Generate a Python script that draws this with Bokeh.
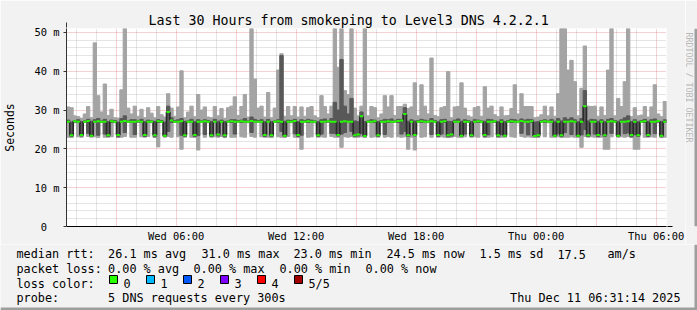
import numpy as np
from bokeh.plotting import figure
from bokeh.models import FixedTicker, Arrow, NormalHead, Range1d, Title
from bokeh.layouts import column, row
from bokeh.core.properties import value
from bokeh.embed import file_html
from bokeh.resources import INLINE

# ---------------- data ----------------
# time in hours since Wed Dec 10 00:00, 10-minute steps over the last 30 hours
t_start = 31 / 60 + 14 / 3600
t_step = 1 / 6
n_steps = 180

median = [
    27.0, 23.5, 27.1, 27.0, 23.6, 27.0, 27.2, 23.4, 27.0, 27.1,
    27.0, 27.0, 23.5, 27.1, 27.0, 23.6, 27.0, 27.2, 27.0, 27.0,
    27.0, 27.1, 27.0, 23.6, 27.0, 27.0, 23.5, 27.1, 27.0, 23.4,
    29.5, 27.3, 27.0, 27.0, 27.1, 23.5, 27.0, 27.0, 23.6, 27.0,
    27.0, 27.1, 27.0, 23.5, 27.0, 23.7, 27.0, 23.5, 27.0, 27.1,
    27.0, 27.0, 27.1, 27.0, 27.0, 27.2, 27.0, 27.0, 27.0, 23.6,
    27.0, 23.5, 27.0, 27.1, 27.0, 23.4, 27.0, 27.0, 27.2, 23.6,
    27.0, 27.0, 27.1, 27.0, 27.0, 23.5, 27.0, 27.0, 27.1, 27.0,
    27.0, 23.6, 27.0, 27.1, 27.0, 27.0, 23.5, 23.7, 28.4, 23.3,
    27.0, 27.0, 27.1, 23.5, 27.0, 27.0, 27.1, 27.0, 27.0, 27.2,
    27.3, 29.0, 23.5, 27.0, 23.6, 27.0, 27.1, 27.0, 27.0, 27.1,
    27.0, 23.6, 27.0, 27.1, 23.5, 23.7, 27.0, 27.0, 23.4, 27.0,
    27.0, 23.5, 27.0, 27.1, 27.0, 23.6, 27.0, 27.0, 27.1, 23.5,
    27.0, 23.4, 27.0, 27.1, 27.0, 27.0, 27.2, 27.0, 27.0, 27.1,
    23.3, 23.5, 27.0, 27.1, 27.0, 27.0, 23.4, 27.0, 23.5, 27.0,
    27.0, 27.1, 27.0, 23.4, 27.0, 31.0, 23.5, 27.0, 27.0, 23.6,
    27.0, 23.5, 27.0, 27.1, 27.0, 23.4, 27.0, 27.0, 27.1, 23.6,
    27.0, 23.5, 27.0, 27.1, 23.6, 27.0, 27.0, 27.2, 23.4, 27.0,
]

ping_min = [
    23.0, 22.9, 26.7, 23.1, 23.0, 26.8, 23.2, 23.0, 23.1, 22.9,
    26.8, 23.0, 23.0, 23.1, 26.7, 22.9, 23.0, 23.2, 26.8, 23.0,
    23.0, 26.8, 23.1, 23.0, 23.2, 26.7, 22.9, 20.5, 26.8, 23.0,
    23.2, 23.0, 26.8, 23.1, 19.9, 23.0, 26.7, 23.0, 22.9, 19.7,
    26.8, 23.0, 26.7, 23.0, 23.1, 23.0, 23.2, 22.9, 26.8, 23.0,
    23.0, 26.8, 23.1, 23.0, 26.7, 23.2, 23.0, 26.8, 23.1, 23.0,
    23.0, 22.9, 26.8, 23.1, 23.0, 23.0, 23.2, 26.7, 23.0, 22.9,
    19.9, 26.8, 23.0, 23.1, 26.7, 23.0, 23.1, 23.0, 26.8, 23.2,
    23.0, 23.0, 20.4, 23.1, 23.0, 23.2, 22.9, 23.0, 23.1, 23.0,
    26.8, 23.0, 23.1, 23.0, 26.7, 23.0, 23.2, 23.0, 26.8, 23.1,
    23.0, 23.1, 19.9, 23.0, 19.7, 26.8, 23.0, 23.1, 26.7, 23.0,
    26.8, 23.0, 23.1, 23.0, 22.9, 23.0, 23.2, 23.0, 22.9, 23.1,
    26.8, 23.0, 23.1, 23.0, 26.7, 22.9, 23.0, 23.1, 26.8, 23.0,
    23.0, 23.0, 26.8, 23.1, 23.0, 26.7, 23.2, 23.0, 23.1, 23.0,
    23.0, 22.9, 26.8, 23.1, 26.7, 23.0, 23.0, 23.1, 22.9, 23.0,
    23.0, 23.1, 23.0, 22.9, 20.4, 23.2, 23.0, 23.1, 23.0, 22.9,
    23.0, 19.9, 19.9, 23.1, 26.8, 23.0, 23.1, 23.0, 23.2, 22.9,
    19.9, 19.9, 26.8, 23.0, 23.0, 23.1, 23.0, 26.7, 22.9, 23.0,
]

ping_lo = [
    26.8, 23.2, 26.9, 26.8, 23.3, 26.9, 24.0, 23.2, 26.8, 23.5,
    26.9, 23.8, 23.2, 26.8, 26.9, 23.1, 26.8, 24.2, 26.9, 26.8,
    23.7, 26.9, 26.8, 23.2, 26.8, 26.9, 23.1, 26.8, 26.9, 23.2,
    24.5, 26.8, 26.9, 26.8, 23.5, 23.2, 26.9, 26.8, 23.2, 23.4,
    26.9, 23.7, 26.9, 23.2, 26.8, 23.3, 26.8, 23.1, 26.9, 26.8,
    23.8, 26.9, 26.8, 26.8, 26.9, 24.2, 26.8, 26.9, 26.8, 23.2,
    26.8, 23.2, 26.9, 26.8, 24.5, 23.1, 26.8, 26.9, 23.9, 23.2,
    23.5, 26.9, 26.8, 26.8, 26.9, 23.2, 23.8, 26.8, 26.9, 24.0,
    24.0, 23.3, 23.8, 24.2, 26.8, 24.5, 23.2, 23.3, 24.0, 23.1,
    26.9, 26.8, 26.8, 23.2, 26.9, 23.7, 26.8, 26.8, 26.9, 26.8,
    23.8, 24.5, 23.2, 26.8, 23.3, 26.9, 26.8, 26.8, 26.9, 23.7,
    26.9, 23.2, 23.8, 26.8, 23.1, 23.3, 26.8, 26.8, 23.2, 23.8,
    26.9, 23.2, 26.8, 26.8, 26.9, 23.2, 23.6, 26.8, 26.9, 23.1,
    23.7, 23.2, 26.9, 26.8, 26.8, 26.9, 24.0, 26.8, 23.6, 26.8,
    23.1, 23.2, 26.9, 26.8, 26.9, 26.8, 23.2, 23.9, 23.2, 24.2,
    26.8, 23.7, 26.8, 23.2, 23.6, 25.0, 23.2, 26.8, 23.8, 23.2,
    26.8, 23.2, 26.8, 24.0, 26.9, 23.2, 26.8, 23.9, 24.1, 23.1,
    23.6, 23.2, 26.9, 26.8, 23.2, 26.8, 23.9, 26.9, 23.1, 26.8,
]

ping_hi = [
    27.4, 26.9, 27.3, 27.5, 27.0, 27.2, 27.6, 27.1, 27.5, 27.8,
    27.2, 27.6, 27.0, 27.4, 27.3, 26.9, 27.8, 28.5, 27.2, 27.5,
    27.5, 27.3, 27.6, 27.0, 27.4, 27.2, 27.1, 27.5, 27.3, 26.9,
    31.0, 28.0, 27.3, 27.5, 27.8, 27.1, 27.2, 27.6, 27.0, 27.5,
    27.2, 27.5, 27.3, 27.0, 27.6, 27.1, 27.4, 27.0, 27.2, 27.5,
    27.5, 27.3, 27.4, 27.8, 27.2, 28.2, 27.6, 27.3, 27.5, 27.0,
    27.6, 27.0, 27.2, 27.5, 44.0, 27.1, 27.4, 27.3, 27.6, 27.0,
    27.5, 27.3, 27.6, 27.4, 27.2, 27.0, 27.5, 27.7, 27.3, 27.8,
    32.0, 30.0, 43.0, 31.0, 29.0, 33.0, 27.2, 27.0, 29.5, 27.0,
    27.2, 27.5, 27.4, 27.0, 27.3, 27.6, 27.5, 27.7, 27.2, 27.6,
    27.6, 30.6, 27.1, 27.5, 27.2, 27.3, 27.6, 27.4, 27.2, 27.8,
    27.3, 27.0, 27.5, 27.6, 27.1, 27.0, 27.4, 27.7, 27.1, 27.5,
    27.3, 27.0, 27.5, 27.4, 27.2, 27.1, 27.6, 27.5, 27.3, 27.0,
    27.5, 27.0, 27.3, 27.6, 27.5, 27.2, 27.7, 27.4, 27.6, 27.5,
    26.9, 27.0, 27.3, 27.5, 27.2, 27.6, 27.1, 27.8, 27.2, 28.0,
    27.6, 28.0, 27.5, 27.0, 27.8, 35.0, 27.2, 27.6, 27.5, 27.1,
    27.5, 27.0, 27.6, 27.8, 27.3, 27.1, 27.5, 28.0, 28.5, 27.0,
    27.5, 27.0, 27.3, 27.6, 27.1, 27.5, 27.7, 27.3, 27.0, 27.5,
]

ping_max = [
    30.8, 30.6, 28.5, 28.3, 27.8, 29.0, 30.9, 28.0, 47.3, 33.7,
    29.5, 36.7, 28.6, 30.2, 28.0, 27.9, 35.2, 52.0, 30.5, 29.0,
    31.0, 28.4, 30.2, 28.0, 30.6, 29.2, 28.0, 30.9, 28.8, 28.2,
    34.2, 30.5, 28.4, 30.8, 40.1, 28.0, 29.5, 31.0, 28.3, 34.0,
    30.0, 30.8, 28.2, 28.0, 30.9, 28.5, 30.4, 27.8, 30.6, 31.0,
    33.4, 28.6, 30.9, 34.0, 28.2, 52.0, 38.0, 30.5, 31.0, 28.2,
    34.5, 28.0, 30.5, 40.3, 44.5, 28.4, 30.9, 28.5, 30.9, 28.2,
    30.8, 28.4, 30.6, 30.9, 28.5, 28.0, 33.7, 30.9, 29.0, 31.0,
    52.0, 41.0, 52.0, 35.0, 34.0, 52.0, 30.5, 28.5, 31.0, 52.0,
    28.5, 30.9, 30.6, 28.0, 29.0, 33.7, 30.8, 33.7, 28.6, 30.9,
    30.9, 31.5, 30.4, 30.8, 37.0, 28.5, 36.5, 31.0, 29.0, 43.4,
    28.6, 28.3, 30.6, 30.9, 39.9, 28.0, 30.8, 30.9, 37.0, 30.5,
    28.5, 28.2, 30.6, 30.9, 28.4, 36.0, 30.5, 31.0, 28.8, 28.3,
    30.8, 28.5, 28.6, 30.4, 36.5, 29.0, 34.2, 30.9, 30.9, 30.9,
    28.0, 28.2, 28.8, 31.0, 28.5, 30.8, 28.4, 34.2, 52.0, 52.0,
    40.3, 42.8, 37.3, 28.5, 35.6, 46.5, 31.0, 30.9, 31.0, 28.4,
    30.8, 28.6, 40.3, 52.0, 28.5, 33.0, 30.9, 37.3, 52.0, 28.3,
    30.6, 28.5, 28.7, 30.9, 28.2, 30.8, 36.5, 29.0, 28.3, 32.2,
]

y_ticks = [0, 10, 20, 30, 40, 50]
y_tick_labels = ["0\u00a0\u00a0", "10 m", "20 m", "30 m", "40 m", "50 m"]
y_minor = [2, 4, 6, 8, 12, 14, 16, 18, 22, 24, 26, 28, 32, 34, 36, 38, 42, 44, 46, 48]
x_ticks = [3, 6, 9, 12, 15, 18, 21, 24, 27, 30]
x_tick_labels = ["", "Wed 06:00", "", "Wed 12:00", "", "Wed 18:00", "", "Thu 00:00", "", "Thu 06:00"]
x_minor = [1, 2, 4, 5, 7, 8, 10, 11, 13, 14, 16, 17, 19, 20, 22, 23, 25, 26, 28, 29]

title_text = "Last 30 Hours from smokeping to Level3 DNS 4.2.2.1"
y_label_text = "Seconds"
watermark_text = "RRDTOOL / TOBI OETIKER"
rtt_items = ["median rtt:", "26.1 ms avg", "31.0 ms max", "23.0 ms min", "24.5 ms now", "1.5 ms sd", "17.5", "am/s"]
loss_items = ["packet loss:", "0.00 % avg", "0.00 % max", "0.00 % min", "0.00 % now"]
loss_color_names = ["0", "1", "2", "3", "4", "5/5"]
loss_colors = ["#26ff00", "#00b8ff", "#0059ff", "#7e00ff", "#ff0000", "#a10000"]
probe_items = ["probe:", "5 DNS requests every 300s"]
stamp_text = "Thu Dec 11 06:31:14 2025"

# ---------------- layout ----------------
W, H = 697, 310
TOP_H = 244                      # chart part; legend part below
SIDE_W = 12                      # right strip with watermark + shade
PW = W - SIDE_W                  # chart figure width
FL, FT, FB = 66, 28, 16
FR = PW - 666
MONO = "DejaVu Sans Mono"
BACK = "#f2f2f2"
SHADE = "#9e9e9e"

t_end = t_start + n_steps * t_step
x_left = t_start + np.arange(n_steps) * t_step
x_mid = x_left + t_step / 2

p = figure(width=PW, height=TOP_H, x_range=Range1d(t_start, t_end), y_range=Range1d(0, 51),
           output_backend="svg", toolbar_location=None, title=None,
           min_border_left=FL, min_border_right=FR, min_border_top=FT, min_border_bottom=FB,
           background_fill_color="white", border_fill_color=BACK, outline_line_color=None)

# smoke
p.vbar(x=x_mid, width=t_step, bottom=ping_min, top=ping_max,
       fill_color="#a4a4a4", line_color="#a4a4a4", line_width=1)
p.vbar(x=x_mid, width=t_step, bottom=ping_lo, top=ping_hi,
       fill_color="#585858", line_color="#585858", line_width=1)

# median: dark risers, green treads
chg = [i for i in range(1, n_steps) if median[i] != median[i - 1]]
p.segment(x0=[x_left[i] for i in chg], y0=[median[i - 1] for i in chg],
          x1=[x_left[i] for i in chg], y1=[median[i] for i in chg],
          line_color="#2a2a2a", line_width=1.6)
p.segment(x0=x_left, y0=median, x1=x_left + t_step, y1=median,
          line_color="#26ff00", line_width=2)

# axes
p.xaxis.ticker = FixedTicker(ticks=x_ticks, minor_ticks=x_minor)
p.xaxis.major_label_overrides = dict(zip(x_ticks, x_tick_labels))
p.yaxis.ticker = FixedTicker(ticks=y_ticks, minor_ticks=y_minor)
p.yaxis.major_label_overrides = dict(zip(y_ticks, y_tick_labels))
for ax in (p.xaxis, p.yaxis):
    ax.major_label_text_font = MONO
    ax.major_label_text_font_size = "10.4px"
    ax.major_label_text_color = "black"
    ax.minor_tick_out = 0
    ax.minor_tick_in = 0
    ax.major_tick_in = 0
p.xaxis.axis_line_color = "black"
p.xaxis.major_tick_out = 0
p.xaxis.major_label_standoff = 3
p.yaxis.axis_line_color = "#333333"
p.yaxis.major_tick_out = 3
p.yaxis.major_tick_line_color = "#333333"
p.yaxis.major_label_standoff = 4
p.yaxis.axis_label = y_label_text
p.yaxis.axis_label_text_font = MONO
p.yaxis.axis_label_text_font_size = "11.5px"
p.yaxis.axis_label_text_font_style = "normal"
p.yaxis.axis_label_text_color = "black"
p.yaxis.axis_label_standoff = 14

for g in (p.xgrid, p.ygrid):
    g.grid_line_color = "#de5050"
    g.grid_line_alpha = 0.5
    g.grid_line_dash = "1 1"
    g.minor_grid_line_color = "#8c8c8c"
    g.minor_grid_line_alpha = 0.45
    g.minor_grid_line_dash = "1 1"

# arrows at the axis ends
px_h = (t_end - t_start) / 600.0
px_y = 51.0 / 200.0
p.add_layout(Arrow(end=NormalHead(size=5, fill_color="#800000", line_color="#800000", line_width=1),
                   x_start=t_end, y_start=0, x_end=t_end + 6 * px_h, y_end=0,
                   line_color="black", line_width=1))
p.add_layout(Arrow(end=NormalHead(size=5, fill_color="#800000", line_color="#800000", line_width=1),
                   x_start=t_start, y_start=51, x_end=t_start, y_end=51 + 6 * px_y,
                   line_color="#333333", line_width=1))

# title
p.add_layout(Title(text=title_text, align="left", offset=148 - FL, standoff=1,
                   text_font=MONO, text_font_size="13.3px", text_font_style="normal",
                   text_color="black"), "above")

# ---------------- right strip: watermark + shade (pixel coordinates) ----------------
s = figure(width=SIDE_W, height=TOP_H, x_range=Range1d(PW, W), y_range=Range1d(TOP_H, 0),
           output_backend="svg", toolbar_location=None, title=None,
           min_border=0, x_axis_type=None, y_axis_type=None,
           background_fill_color=BACK, border_fill_color=BACK, outline_line_color=None)
s.grid.visible = False
s.text(x=[688], y=[5], text=[watermark_text], angle=-np.pi / 2,
       text_font=value(MONO), text_font_size=value("8.3px"), text_align=value("left"),
       text_baseline=value("middle"), text_color="#b8b8b8")
s.quad(left=[W - 3], right=[W], top=[0], bottom=[TOP_H], fill_color=SHADE, line_color=None)

# ---------------- legend panel (pixel coordinates) ----------------
LH = H - TOP_H
q = figure(width=W, height=LH, x_range=Range1d(0, W), y_range=Range1d(H, TOP_H),
           output_backend="svg", toolbar_location=None, title=None,
           min_border=0, x_axis_type=None, y_axis_type=None,
           background_fill_color=BACK, border_fill_color=BACK, outline_line_color=None)
q.grid.visible = False


def txt(xs, y, items, align="left"):
    q.text(x=xs, y=[y] * len(items), text=items, text_font=value(MONO),
           text_font_size=value("11.8px"), text_align=value(align),
           text_baseline=value("alphabetic"), text_color="black")


LINE_Y = [253.5, 268.5, 283, 297]
txt([16, 107.6, 201, 293, 386, 479, 557, 607], LINE_Y[0], rtt_items)
txt([16, 107.6, 193, 279, 365], LINE_Y[1], loss_items)
box_x = [109, 146, 183, 220, 257, 294]
txt([16], LINE_Y[2], ["loss color:"])
txt([bx + 14 for bx in box_x], LINE_Y[2], loss_color_names)
q.quad(left=box_x, right=[bx + 8 for bx in box_x], top=[LINE_Y[2] - 8] * 6, bottom=[LINE_Y[2]] * 6,
       fill_color=loss_colors, line_color="black", line_width=1)
txt([16, 107.6], LINE_Y[3], probe_items)
txt([680], LINE_Y[3], [stamp_text], align="right")
# shading along bottom and right edge
q.quad(left=[0, W - 3], right=[W, W], top=[H - 3, TOP_H], bottom=[H, H],
       fill_color=SHADE, line_color=None)

page = column(row(p, s, spacing=0), q, spacing=0)
open("out.html", "w").write(file_html(page, INLINE))
